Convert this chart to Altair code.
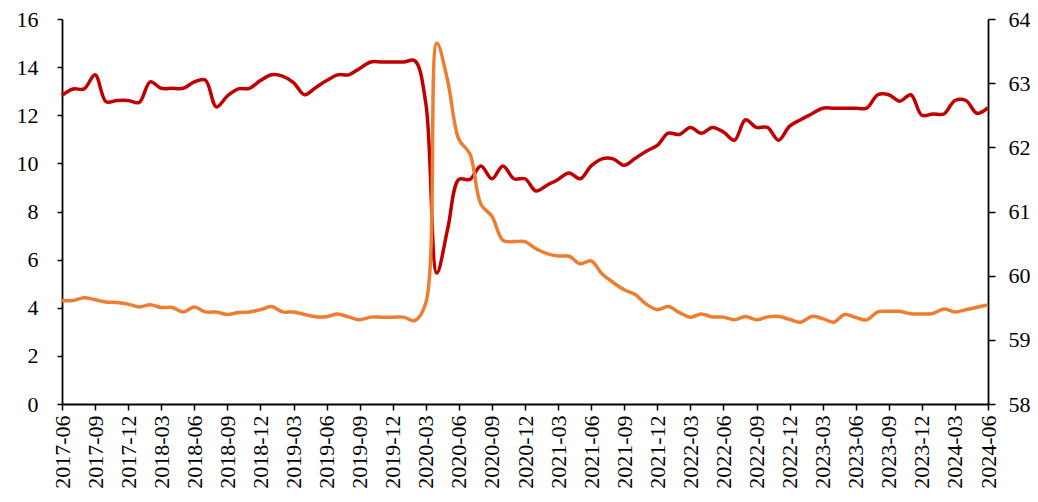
import altair as alt
import pandas as pd

months = [
    "2017-06", "2017-07", "2017-08", "2017-09", "2017-10", "2017-11", "2017-12",
    "2018-01", "2018-02", "2018-03", "2018-04", "2018-05", "2018-06", "2018-07", "2018-08", "2018-09", "2018-10", "2018-11", "2018-12",
    "2019-01", "2019-02", "2019-03", "2019-04", "2019-05", "2019-06", "2019-07", "2019-08", "2019-09", "2019-10", "2019-11", "2019-12",
    "2020-01", "2020-02", "2020-03", "2020-04", "2020-05", "2020-06", "2020-07", "2020-08", "2020-09", "2020-10", "2020-11", "2020-12",
    "2021-01", "2021-02", "2021-03", "2021-04", "2021-05", "2021-06", "2021-07", "2021-08", "2021-09", "2021-10", "2021-11", "2021-12",
    "2022-01", "2022-02", "2022-03", "2022-04", "2022-05", "2022-06", "2022-07", "2022-08", "2022-09", "2022-10", "2022-11", "2022-12",
    "2023-01", "2023-02", "2023-03", "2023-04", "2023-05", "2023-06", "2023-07", "2023-08", "2023-09", "2023-10", "2023-11", "2023-12",
    "2024-01", "2024-02", "2024-03", "2024-04", "2024-05", "2024-06",
]

tick_labels = [
    "2017-06", "2017-09", "2017-12", "2018-03", "2018-06", "2018-09", "2018-12",
    "2019-03", "2019-06", "2019-09", "2019-12", "2020-03", "2020-06", "2020-09",
    "2020-12", "2021-03", "2021-06", "2021-09", "2021-12", "2022-03", "2022-06",
    "2022-09", "2022-12", "2023-03", "2023-06", "2023-09", "2023-12", "2024-03", "2024-06",
]

# left axis series (orange)
orange = [
    4.30, 4.30, 4.42, 4.33, 4.24, 4.22, 4.15,
    4.03, 4.12, 4.01, 4.01, 3.82, 4.03, 3.83, 3.82, 3.72, 3.80, 3.82, 3.92,
    4.05, 3.83, 3.82, 3.72, 3.63, 3.63, 3.74, 3.62, 3.50, 3.61, 3.61, 3.61,
    3.61, 3.47, 4.20, 15.0, 13.4, 11.0, 10.4, 8.3, 7.8, 6.8, 6.75, 6.75,
    6.45, 6.25, 6.15, 6.14, 5.83, 5.95, 5.40, 5.05, 4.75, 4.55, 4.15, 3.92,
    4.05, 3.80, 3.61, 3.74, 3.62, 3.61, 3.50, 3.64, 3.50, 3.62, 3.64, 3.52,
    3.40, 3.64, 3.55, 3.40, 3.72, 3.60, 3.50, 3.83, 3.85, 3.85, 3.75, 3.74,
    3.76, 3.95, 3.82, 3.92, 4.02, 4.12,
]

# right axis series (dark red)
red = [
    62.81, 62.91, 62.91, 63.13, 62.71, 62.73, 62.73,
    62.70, 63.02, 62.92, 62.92, 62.92, 63.02, 63.05, 62.63, 62.80, 62.91, 62.92, 63.04,
    63.13, 63.11, 63.01, 62.82, 62.93, 63.04, 63.13, 63.13, 63.23, 63.33, 63.33, 63.33,
    63.33, 63.35, 62.69, 60.04, 60.74, 61.50, 61.50, 61.71, 61.51, 61.71, 61.51, 61.51,
    61.32, 61.41, 61.50, 61.60, 61.51, 61.71, 61.82, 61.82, 61.72, 61.83, 61.94, 62.03,
    62.22, 62.20, 62.31, 62.22, 62.31, 62.24, 62.11, 62.43, 62.31, 62.31, 62.11, 62.33,
    62.43, 62.52, 62.61, 62.61, 62.61, 62.61, 62.61, 62.82, 62.82, 62.72, 62.82, 62.50,
    62.52, 62.52, 62.73, 62.73, 62.53, 62.62,
]

df = pd.DataFrame({"month": months, "orange": orange, "red": red})

FONT = "Liberation Serif"
FS = 22

x_enc = alt.X(
    "month:O",
    sort=months,
    scale=alt.Scale(type="point", padding=0),
    axis=alt.Axis(
        values=tick_labels, labelAngle=-90, title=None, tickSize=6,
        labelPadding=5, labelFont=FONT, labelFontSize=FS, labelColor="black",
        domainColor="black", domainWidth=1.8, tickColor="black", tickWidth=1.5,
        minExtent=90, maxExtent=90,
    ),
)

left = alt.Chart(df).mark_line(color="#ED7D31", strokeWidth=3.5, interpolate="catmull-rom").encode(
    x=x_enc,
    y=alt.Y(
        "orange:Q",
        scale=alt.Scale(domain=[0, 16], nice=False, zero=False),
        axis=alt.Axis(
            values=[0, 2, 4, 6, 8, 10, 12, 14, 16], title=None, orient="left",
            grid=False, tickSize=5, labelPadding=19, labelFont=FONT, labelFontSize=FS,
            labelColor="black", domainColor="black", domainWidth=1.8,
            tickColor="black", tickWidth=1.5, minExtent=54, maxExtent=54,
        ),
    ),
)

right = alt.Chart(df).mark_line(color="#C00000", strokeWidth=3.5, interpolate="catmull-rom").encode(
    x=x_enc,
    y=alt.Y(
        "red:Q",
        scale=alt.Scale(domain=[58, 64], nice=False, zero=False),
        axis=alt.Axis(
            values=[58, 59, 60, 61, 62, 63, 64], title=None, orient="right",
            grid=False, tickSize=7, labelPadding=13, labelFont=FONT, labelFontSize=FS,
            labelColor="black", domainColor="black", domainWidth=1.8,
            tickColor="black", tickWidth=1.5, minExtent=37, maxExtent=37,
        ),
    ),
)

chart = (
    alt.layer(right, left)
    .resolve_scale(y="independent")
    .properties(
        width=1022, height=486,
        padding={"left": 0, "top": 0, "right": 0, "bottom": 0},
        autosize=alt.AutoSizeParams(type="fit", contains="padding"),
        background="white",
    )
    .configure_view(stroke=None)
)

chart.save("out.html", embed_options={"renderer": "svg", "actions": False})
